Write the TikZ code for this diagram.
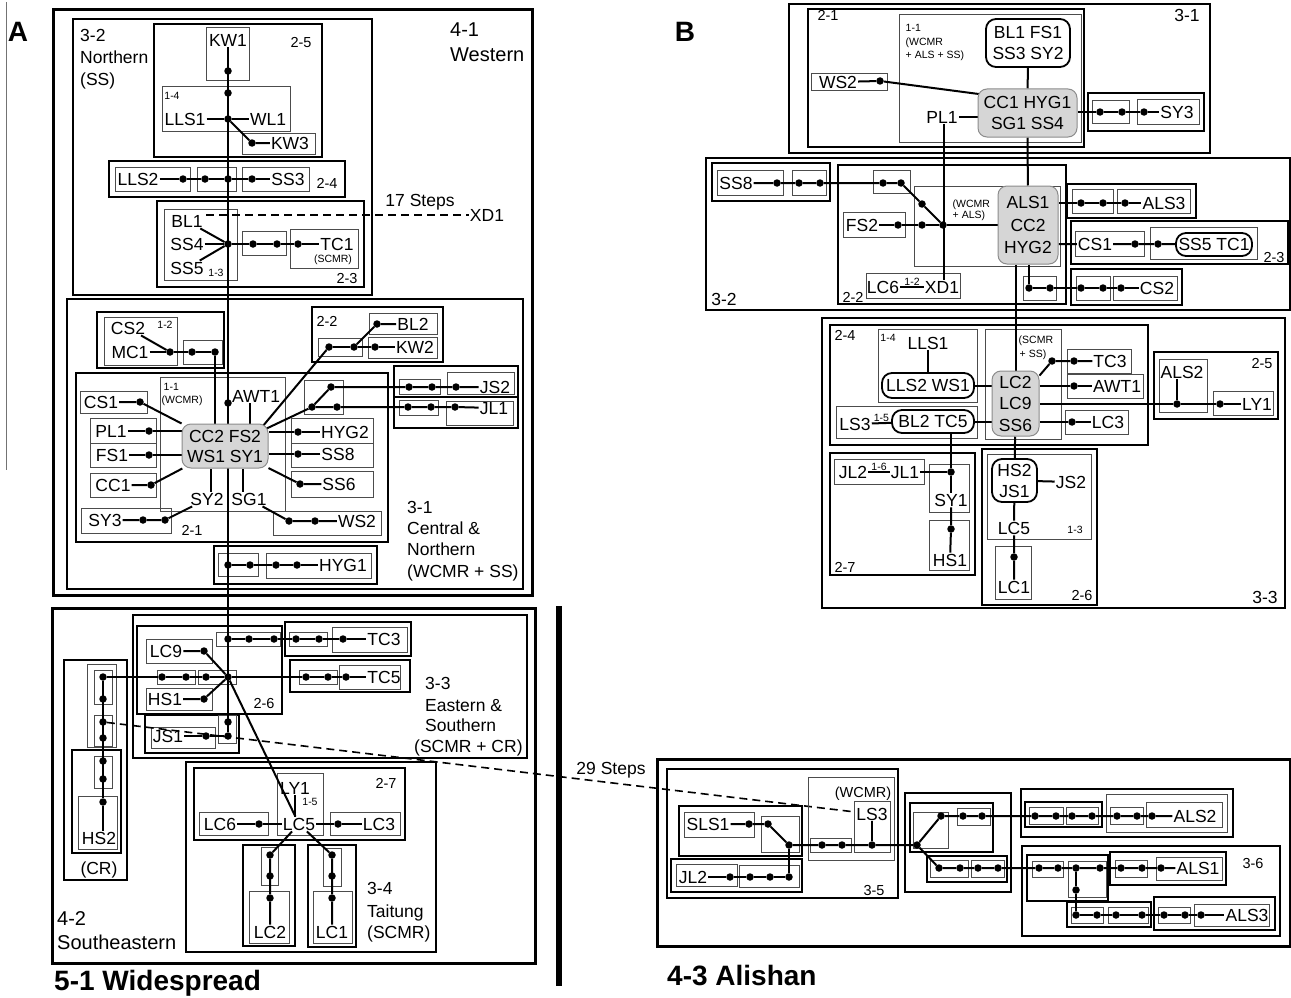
\documentclass[tikz,border=0pt]{standalone}
\usepackage{fontspec}
\setmainfont{Liberation Sans}
\usetikzlibrary{backgrounds}
\begin{document}
\begin{tikzpicture}[x=1pt, y=-1pt,
    lab/.style={font=\fontsize{17.5}{20}\selectfont, inner sep=1pt, text height=12.5pt, text depth=0pt},
    reg/.style={font=\fontsize{20}{23}\selectfont, inner sep=1pt, text height=14.3pt, text depth=0pt},
    sml/.style={font=\fontsize{14.5}{17}\selectfont, inner sep=0.5pt, text height=10.4pt, text depth=0pt},
    tny/.style={font=\fontsize{10.5}{12}\selectfont, inner sep=0.5pt, text height=7.6pt, text depth=0pt},
    big/.style={font=\bfseries\fontsize{28}{31}\selectfont, inner sep=0pt, text height=20pt, text depth=0pt},
    dot/.style={circle, fill, inner sep=0pt, minimum size=7.5pt},
    gnode/.style={draw=black!45, fill=black!16, line width=1pt, rounded corners=9pt, align=center, inner sep=0pt},
    wnode/.style={draw, line width=1.8pt, fill=white, rounded corners=10pt, align=center, inner sep=0pt},
    link/.style={line width=2pt},
    gap/.style={line width=1.6pt, dash pattern=on 8pt off 5pt},
    thinbox/.style={draw=black!70, line width=1pt},
    medbox/.style={draw, line width=1.6pt},
    heavybox/.style={draw, line width=2.2pt},
    thickbox/.style={draw, line width=3pt}]
\useasboundingbox (0,0) rectangle (1291,998);

% ================= A =================
\node[big] (capA) at (18,32) {A};
\node[reg, anchor=west] (w41a) at (449,29) {4-1};
\node[reg, anchor=west] (w41b) at (449,54) {Western};

% 3-2 Northern
\node[lab, anchor=west] (n32a) at (79,35) {3-2};
\node[lab, anchor=west] (n32b) at (79,57) {Northern};
\node[lab, anchor=west] (n32c) at (79,79) {(SS)};
\node[sml] (c25) at (301,42) {2-5};
\node[lab] (kw1) at (228,40) {KW1};
\node[dot] (k1) at (228,71) {};
\node[dot] (k2) at (228,93) {};
\node[tny] (c14) at (172,96) {1-4};
\node[lab] (lls1) at (185,119) {LLS1};
\node[dot] (k3) at (228,119) {};
\node[lab] (wl1) at (268,119) {WL1};
\node[dot] (k4) at (252,143) {};
\node[lab] (kw3) at (290,143) {KW3};
\node[lab] (lls2) at (138,179) {LLS2};
\node[dot] (r1) at (183,179) {};
\node[dot] (r2) at (205,179) {};
\node[dot] (r3) at (228,179) {};
\node[dot] (r4) at (252,179) {};
\node[lab] (ss3) at (288,179) {SS3};
\node[sml] (c24) at (327,183) {2-4};
\node[lab] (bl1) at (187,221) {BL1};
\node[lab] (ss4) at (187,244) {SS4};
\node[lab] (ss5) at (187,268) {SS5};
\node[tny] (c13) at (216,273) {1-3};
\node[dot] (t1) at (228,244) {};
\node[dot] (t2) at (253,244) {};
\node[dot] (t3) at (277,244) {};
\node[dot] (t4) at (298,244) {};
\node[lab] (tc1) at (337,244) {TC1};
\node[tny] (scA) at (333,259) {(SCMR)};
\node[sml] (c23) at (347,278) {2-3};
\coordinate (gapA) at (206,215);
\node[lab] (steps17) at (420,200) {17 Steps};
\node[lab] (xdA) at (487,215) {XD1};

% 3-1 Central & Northern
\node[lab] (cs2) at (128,328) {CS2};
\node[tny] (c12) at (165,325) {1-2};
\node[lab] (mc1) at (130,352) {MC1};
\node[dot] (m1) at (170,352) {};
\node[dot] (m2) at (192,352) {};
\node[dot] (m3) at (215,352) {};
\node[sml] (c22) at (327,321) {2-2};
\node[dot] (b1) at (377,324) {};
\node[lab] (bl2) at (413,324) {BL2};
\node[dot] (b2) at (375,347) {};
\node[lab] (kw2) at (415,347) {KW2};
\node[dot] (b3) at (329,347) {};
\node[dot] (b4) at (354,347) {};
\node[tny, anchor=west] (c11) at (163,387) {1-1};
\node[tny, anchor=west] (wcA) at (161,400) {(WCMR)};
\node[gnode, font=\fontsize{17.5}{20}\selectfont, minimum width=86pt, minimum height=44pt] (hubA) at (225,446) {CC2 FS2\\WS1 SY1};
\node[lab] (awt1) at (256,396) {AWT1};
\node[dot] (a1) at (228,403) {};
\node[lab] (cs1) at (101,402) {CS1};
\node[dot] (e1) at (140,402) {};
\node[lab] (pl1) at (111,431) {PL1};
\node[dot] (e2) at (149,431) {};
\node[lab] (fs1) at (112,455) {FS1};
\node[dot] (e3) at (149,455) {};
\node[lab] (cc1) at (113,485) {CC1};
\node[dot] (e4) at (151,485) {};
\node[lab] (sy3) at (105,520) {SY3};
\node[dot] (e5) at (143,520) {};
\node[dot] (e6) at (165,520) {};
\node[lab] (sy2) at (207,499) {SY2};
\node[lab] (sg1) at (249,499) {SG1};
\node[dot] (e7) at (289,521) {};
\node[dot] (e8) at (315,521) {};
\node[lab] (ws2) at (357,521) {WS2};
\node[dot] (f1) at (298,432) {};
\node[lab] (hyg2) at (345,432) {HYG2};
\node[dot] (f2) at (298,454) {};
\node[lab] (ss8) at (338,454) {SS8};
\node[dot] (f3) at (300,484) {};
\node[lab] (ss6) at (339,484) {SS6};
\node[dot] (g1) at (312,407) {};
\node[dot] (g2) at (331,387) {};
\node[dot] (g3) at (337,407) {};
\node[dot] (g4) at (409,387) {};
\node[dot] (g5) at (432,387) {};
\node[dot] (g6) at (456,387) {};
\node[lab] (js2) at (495,387) {JS2};
\node[dot] (g7) at (408,407) {};
\node[dot] (g8) at (431,407) {};
\node[dot] (g9) at (455,407) {};
\node[lab] (jl1) at (494,408) {JL1};
\node[sml] (c21) at (192,530) {2-1};
\node[dot] (h1) at (228,565) {};
\node[dot] (h2) at (250,565) {};
\node[dot] (h3) at (276,565) {};
\node[dot] (h4) at (297,565) {};
\node[lab] (hyg1) at (343,565) {HYG1};
\node[lab, anchor=west] (n31a) at (406,507) {3-1};
\node[lab, anchor=west] (n31b) at (406,528) {Central \&};
\node[lab, anchor=west] (n31c) at (406,549) {Northern};
\node[lab, anchor=west] (n31d) at (406,571) {(WCMR + SS)};

% 4-2 Southeastern
\node[dot] (p1) at (228,639) {};
\node[dot] (p2) at (249,639) {};
\node[dot] (p3) at (274,639) {};
\node[dot] (p4) at (296,639) {};
\node[dot] (p5) at (319,639) {};
\node[dot] (p6) at (343,639) {};
\node[lab] (tc3) at (384,639) {TC3};
\node[lab] (lc9) at (166,651) {LC9};
\node[dot] (q0) at (204,651) {};
\node[dot] (q1) at (162,677) {};
\node[dot] (q2) at (186,677) {};
\node[dot] (q3) at (206,677) {};
\node[dot] (hub26) at (228,677) {};
\node[dot] (q4) at (306,677) {};
\node[dot] (q5) at (328,677) {};
\node[dot] (q6) at (346,677) {};
\node[lab] (tc5) at (384,677) {TC5};
\node[lab] (hs1) at (165,699) {HS1};
\node[dot] (q7) at (204,699) {};
\node[lab] (js1) at (168,736) {JS1};
\node[dot] (u1) at (206,736) {};
\node[dot] (u2) at (228,722) {};
\node[dot] (u3) at (228,736) {};
\node[sml] (c26) at (264,703) {2-6};
\node[dot] (v1) at (103,677) {};
\node[dot] (v2) at (103,699) {};
\node[dot] (v3) at (103,722) {};
\node[dot] (v4) at (103,738) {};
\node[dot] (v5) at (103,761) {};
\node[dot] (v6) at (103,779) {};
\node[dot] (v7) at (103,802) {};
\node[lab] (hs2) at (99,838) {HS2};
\node[lab] (crA) at (99,868) {(CR)};
\node[lab, anchor=west] (n33a) at (424,683) {3-3};
\node[lab, anchor=west] (n33b) at (424,705) {Eastern \&};
\node[lab, anchor=west] (n33c) at (424,725) {Southern};
\node[lab, anchor=west] (n33d) at (413,746) {(SCMR + CR)};
\node[sml] (c27) at (386,783) {2-7};
\node[lab] (ly1) at (295,788) {LY1};
\node[tny] (c15) at (310,802) {1-5};
\node[lab] (lc5) at (299,824) {LC5};
\node[lab] (lc6) at (220,824) {LC6};
\node[dot] (x1) at (259,824) {};
\node[dot] (x2) at (338,824) {};
\node[lab] (lc3) at (379,824) {LC3};
\node[dot] (x3) at (270,855) {};
\node[dot] (x4) at (270,876) {};
\node[dot] (x5) at (270,898) {};
\node[lab] (lc2) at (270,932) {LC2};
\node[dot] (x6) at (332,855) {};
\node[dot] (x7) at (332,876) {};
\node[dot] (x8) at (332,898) {};
\node[lab] (lc1) at (332,932) {LC1};
\node[lab, anchor=west] (n34a) at (366,888) {3-4};
\node[lab, anchor=west] (n34b) at (366,911) {Taitung};
\node[lab, anchor=west] (n34c) at (366,932) {(SCMR)};
\node[reg, anchor=west] (n42a) at (56,918) {4-2};
\node[reg, anchor=west] (n42b) at (56,942) {Southeastern};
\node[big, anchor=west] (n51) at (54,980) {5-1 Widespread};

% ================= B =================
\node[big] (capB) at (685,32) {B};
\node[lab] (n31B) at (1187,15) {3-1};
\node[sml] (n21B) at (828,15) {2-1};
\node[tny, anchor=west] (n11B) at (905,28) {1-1};
\node[tny, anchor=west] (n11Bb) at (905,42) {(WCMR};
\node[tny, anchor=west] (n11Bc) at (905,55) {+ ALS + SS)};
\node[wnode, font=\fontsize{17.5}{20.5}\selectfont, minimum width=84pt, minimum height=48pt] (topB) at (1028,43) {BL1 FS1\\SS3 SY2};
\node[gnode, font=\fontsize{17.5}{20.5}\selectfont, minimum width=99pt, minimum height=48pt] (hubB1) at (1027.5,113) {CC1 HYG1\\SG1 SS4};
\node[lab] (ws2b) at (838,82) {WS2};
\node[dot] (y1) at (880,81) {};
\node[lab] (pl1b) at (942,117) {PL1};
\node[dot] (y2) at (1100,112) {};
\node[dot] (y3) at (1122,112) {};
\node[dot] (y4) at (1144,112) {};
\node[lab] (sy3b) at (1177,112) {SY3};

% 3-2
\node[lab] (n32B) at (724,299) {3-2};
\node[lab] (ss8b) at (736,183) {SS8};
\node[dot] (s1) at (777,183) {};
\node[dot] (s2) at (799,183) {};
\node[dot] (s3) at (820,183) {};
\node[dot] (s4) at (883,183) {};
\node[dot] (s5) at (901,183) {};
\node[dot] (s6) at (922,204) {};
\node[dot] (j22) at (943,225) {};
\node[lab] (fs2b) at (862,225) {FS2};
\node[dot] (s7) at (898,225) {};
\node[dot] (s8) at (922,225) {};
\node[tny, anchor=west] (wa1) at (952,204) {(WCMR};
\node[tny, anchor=west] (wa2) at (952,215) {+ ALS)};
\node[gnode, font=\fontsize{17.5}{22.5}\selectfont, minimum width=60pt, minimum height=78pt] (hubB2) at (1028,225) {ALS1\\CC2\\HYG2};
\node[dot] (a3a) at (1081,203) {};
\node[dot] (a3b) at (1103,203) {};
\node[dot] (a3c) at (1125,203) {};
\node[lab] (als3b) at (1164,203) {ALS3};
\node[lab] (cs1b) at (1095,244) {CS1};
\node[dot] (o1) at (1135,244) {};
\node[dot] (o2) at (1158,244) {};
\node[wnode, font=\fontsize{17.5}{20}\selectfont, minimum width=76pt, minimum height=23pt] (sstc) at (1214,244.5) {SS5 TC1};
\node[dot] (cz1) at (1029,288) {};
\node[dot] (cz2) at (1050,288) {};
\node[dot] (cz3) at (1081,288) {};
\node[dot] (cz4) at (1103,288) {};
\node[dot] (cz5) at (1121,288) {};
\node[lab] (cs2b) at (1157,288) {CS2};
\node[lab] (lc6b) at (883,287) {LC6};
\node[lab] (xdB) at (942,287) {XD1};
\node[sml] (n22B) at (853,297) {2-2};
\node[sml] (n23B) at (1274,257) {2-3};

% 3-3
\node[sml] (n24B) at (845,335) {2-4};
\node[tny] (n14B) at (888,338) {1-4};
\node[lab] (lls1b) at (928,343) {LLS1};
\node[wnode, font=\fontsize{17.5}{20}\selectfont, minimum width=92pt, minimum height=25pt] (llsws) at (928,385.5) {LLS2 WS1};
\node[lab] (ls3b) at (855,424) {LS3};
\node[wnode, font=\fontsize{17.5}{20}\selectfont, minimum width=82pt, minimum height=23pt] (bltc) at (933,421.5) {BL2 TC5};
\node[tny, anchor=west] (sc1) at (1018,340) {(SCMR};
\node[tny, anchor=west] (sc2) at (1019,354) {+ SS)};
\node[gnode, font=\fontsize{17.5}{21.5}\selectfont, minimum width=47pt, minimum height=65pt] (hubB3) at (1015.5,403.5) {LC2\\LC9\\SS6};
\node[dot] (z1) at (1052,361) {};
\node[dot] (z2) at (1074,361) {};
\node[lab] (tc3b) at (1110,361) {TC3};
\node[dot] (aw1) at (1074,386) {};
\node[lab] (awt1b) at (1117,386) {AWT1};
\node[dot] (lc3d) at (1072,422) {};
\node[lab] (lc3b) at (1108,422) {LC3};
\node[lab] (als2b) at (1182,372) {ALS2};
\node[dot] (ly1a) at (1177,404) {};
\node[dot] (ly1b) at (1220,404) {};
\node[lab] (ly1c) at (1257,404) {LY1};
\node[sml] (n25B) at (1262,363) {2-5};
\node[lab] (jl2b) at (853,472) {JL2};
\node[lab] (jl1b) at (905,472) {JL1};
\node[dot] (sy1d) at (951,472) {};
\node[lab] (sy1b) at (951,500) {SY1};
\node[dot] (hs1d) at (951,529) {};
\node[lab] (hs1b) at (950,560) {HS1};
\node[sml] (n27B) at (845,567) {2-7};
\node[wnode, font=\fontsize{17.5}{21}\selectfont, minimum width=45pt, minimum height=43pt] (hsjs) at (1014.5,480.5) {HS2\\JS1};
\node[lab] (js2b) at (1071,482) {JS2};
\node[lab] (lc5b) at (1014,528) {LC5};
\node[dot] (lc1d) at (1014,557) {};
\node[lab] (lc1b) at (1014,587) {LC1};
\node[tny] (n13B) at (1075,530) {1-3};
\node[sml] (n26B) at (1082,595) {2-6};
\node[lab] (n33B) at (1265,597) {3-3};

% 4-3 Alishan
\node[lab] (steps29) at (611,768) {29 Steps};
\node[sml] (wcB) at (863,792) {(WCMR)};
\node[lab] (ls3) at (872,814) {LS3};
\node[lab] (sls1) at (708,824) {SLS1};
\node[dot] (sa) at (749,824) {};
\node[dot] (sb) at (768,824) {};
\node[dot] (sj) at (789,845) {};
\node[dot] (w1) at (822,845) {};
\node[dot] (w2) at (842,845) {};
\node[dot] (w3) at (872,845) {};
\node[dot] (mj) at (917,845) {};
\node[lab] (jl2c) at (693,877) {JL2};
\node[dot] (ja) at (730,877) {};
\node[dot] (jb) at (750,877) {};
\node[dot] (jc) at (770,877) {};
\node[dot] (jd) at (789,877) {};
\node[sml] (n35) at (874,890) {3-5};
\node[dot] (ma) at (941,816) {};
\node[dot] (mb) at (963,816) {};
\node[dot] (mc) at (982,816) {};
\node[dot] (al1) at (1035,816) {};
\node[dot] (al2) at (1056,816) {};
\node[dot] (al3) at (1072,816) {};
\node[dot] (al4) at (1092,816) {};
\node[dot] (al5) at (1117,816) {};
\node[dot] (al6) at (1137,816) {};
\node[dot] (al7) at (1152,816) {};
\node[lab] (als2c) at (1195,816) {ALS2};
\node[dot] (mla) at (939,868) {};
\node[dot] (mlb) at (960,868) {};
\node[dot] (mlc) at (978,868) {};
\node[dot] (mld) at (998,868) {};
\node[dot] (rr1) at (1039,868) {};
\node[dot] (rr2) at (1058,868) {};
\node[dot] (rj) at (1076,868) {};
\node[dot] (rr3) at (1100,868) {};
\node[dot] (rr4) at (1121,868) {};
\node[dot] (rr5) at (1142,868) {};
\node[dot] (rr6) at (1161,868) {};
\node[lab] (als1c) at (1198,868) {ALS1};
\node[dot] (rv) at (1076,890) {};
\node[dot] (qq1) at (1076,915) {};
\node[dot] (qq2) at (1097,915) {};
\node[dot] (qq3) at (1116,915) {};
\node[dot] (qq4) at (1142,915) {};
\node[dot] (qq5) at (1164,915) {};
\node[dot] (qq6) at (1185,915) {};
\node[dot] (qq7) at (1201,915) {};
\node[lab] (als3c) at (1247,915) {ALS3};
\node[sml] (n36) at (1253,863) {3-6};
\node[big, anchor=west] (n43) at (667,975) {4-3 Alishan};

\begin{scope}[on background layer]
% ---------- boxes A ----------
\draw[black!55, line width=0.8pt] (6,2) -- (6,470);
\draw[thickbox] (53,10) rectangle (532,595);
\draw[thickbox] (52,608) rectangle (535,963);
\draw[heavybox] (73,19) rectangle (372,295);
\draw[medbox] (154,24) rectangle (322,157);
\draw[thinbox] (206,28) rectangle (249,81);
\draw[thinbox] (162,87) rectangle (290,131);
\draw[thinbox] (242,133) rectangle (315,154);
\draw[medbox] (109,161) rectangle (345,197);
\draw[thinbox] (115,167) rectangle (190,191);
\draw[thinbox] (197,167) rectangle (236,191);
\draw[thinbox] (242,167) rectangle (309,191);
\draw[medbox] (157,201) rectangle (364,287);
\draw[thinbox] (164,209) rectangle (237,280);
\draw[thinbox] (242,231) rectangle (286,255);
\draw[thinbox] (290,229) rectangle (358,268);
\draw[heavybox] (67,299) rectangle (523,589);
\draw[medbox] (97,312) rectangle (224,368);
\draw[thinbox] (104,317) rectangle (177,365);
\draw[thinbox] (183,340) rectangle (222,364);
\draw[medbox] (312,307) rectangle (443,362);
\draw[thinbox] (369,313) rectangle (437,334);
\draw[thinbox] (368,337) rectangle (437,358);
\draw[thinbox] (318,338) rectangle (362,356);
\draw[medbox] (76,373) rectangle (388,542);
\draw[thinbox] (160,377) rectangle (285,511);
\draw[thinbox] (80,391) rectangle (147,413);
\draw[thinbox] (90,418) rectangle (156,443);
\draw[thinbox] (90,443) rectangle (156,467);
\draw[thinbox] (90,473) rectangle (156,497);
\draw[thinbox] (81,508) rectangle (171,533);
\draw[thinbox] (291,418) rectangle (373,443);
\draw[thinbox] (291,443) rectangle (373,467);
\draw[thinbox] (291,471) rectangle (373,497);
\draw[thinbox] (273,511) rectangle (381,535);
\draw[thinbox] (304,380) rectangle (343,414);
\draw[medbox] (394,366) rectangle (518,397);
\draw[medbox] (394,397) rectangle (518,428);
\draw[thinbox] (399,379) rectangle (440,394);
\draw[thinbox] (447,372) rectangle (514,394);
\draw[thinbox] (399,400) rectangle (438,415);
\draw[thinbox] (446,401) rectangle (513,425);
\draw[medbox] (214,546) rectangle (377,584);
\draw[thinbox] (218,553) rectangle (258,576);
\draw[thinbox] (266,553) rectangle (371,578);
\draw[heavybox] (133,615) rectangle (527,758);
\draw[medbox] (137,626) rectangle (282,714);
\draw[thinbox] (146,639) rectangle (212,663);
\draw[thinbox] (146,688) rectangle (212,710);
\draw[thinbox] (157,670) rectangle (195,684);
\draw[thinbox] (198,670) rectangle (236,684);
\draw[thinbox] (216,632) rectangle (280,646);
\draw[medbox] (285,622) rectangle (411,656);
\draw[thinbox] (289,632) rectangle (327,646);
\draw[thinbox] (332,627) rectangle (407,652);
\draw[medbox] (290,660) rectangle (410,692);
\draw[thinbox] (299,670) rectangle (337,684);
\draw[thinbox] (339,665) rectangle (400,689);
\draw[medbox] (145,715) rectangle (239,753);
\draw[thinbox] (151,727) rectangle (215,748);
\draw[thinbox] (218,715) rectangle (236,743);
\draw[heavybox] (64,660) rectangle (127,880);
\draw[thinbox] (87,664) rectangle (116,747);
\draw[thinbox] (94,670) rectangle (112,704);
\draw[thinbox] (94,715) rectangle (112,746);
\draw[medbox] (72,750) rectangle (121,853);
\draw[thinbox] (94,756) rectangle (112,788);
\draw[thinbox] (78,796) rectangle (117,849);
\draw[heavybox] (186,762) rectangle (436,952);
\draw[medbox] (194,768) rectangle (405,840);
\draw[thinbox] (277,773) rectangle (323,835);
\draw[thinbox] (199,812) rectangle (268,835);
\draw[thinbox] (330,812) rectangle (400,835);
\draw[medbox] (243,845) rectangle (295,946);
\draw[thinbox] (261,847) rectangle (278,885);
\draw[thinbox] (249,891) rectangle (289,943);
\draw[medbox] (308,845) rectangle (356,947);
\draw[thinbox] (323,848) rectangle (341,886);
\draw[thinbox] (313,891) rectangle (352,943);
\draw[line width=6pt] (559,606) -- (559,986);

% ---------- links A ----------
\draw[link] (kw1) -- (u3);
\draw[link] (lls1) -- (k3) -- (wl1);
\draw[link] (k3) -- (k4) -- (kw3);
\draw[link] (lls2) -- (r1) -- (r2) -- (r3) -- (r4) -- (ss3);
\draw[link] (bl1) -- (t1);
\draw[link] (ss5) -- (t1);
\draw[link] (ss4) -- (t1) -- (t2) -- (t3) -- (t4) -- (tc1);
\draw[gap] (gapA) -- (xdA);
\draw[link] (cs2) -- (m1);
\draw[link] (mc1) -- (m1) -- (m2) -- (m3) -- (m3 |- hubA.north);
\draw[link] (b3) -- (b4) -- (b2) -- (kw2);
\draw[link] (b4) -- (b1) -- (bl2);
\draw[link] ([shift={(-6pt,-3pt)}]hubA.north east) -- (b3);
\draw[link] ([shift={(-4pt,-6pt)}]hubA.north east) -- (g1) -- (g2) -- (g4) -- (g5) -- (g6) -- (js2);
\draw[link] (g1) -- (g3) -- (g7) -- (g8) -- (g9) -- (jl1);
\draw[link] (cs1) -- (e1) -- (hubA);
\draw[link] (pl1) -- (e2) -- (e2 -| hubA.west);
\draw[link] (fs1) -- (e3) -- (e3 -| hubA.west);
\draw[link] (cc1) -- (e4) -- (hubA);
\draw[link] (sy3) -- (e5) -- (e6) -- (sy2);
\draw[link] ([xshift=4pt]sy2.north) -- ([xshift=4pt]sy2.north |- hubA.south);
\draw[link] ([xshift=-6pt]sg1.north) -- ([xshift=-6pt]sg1.north |- hubA.south);
\draw[link] (sg1) -- (e7) -- (e8) -- (ws2);
\draw[link] (hyg2) -- (f1) -- (f1 -| hubA.east);
\draw[link] (ss8) -- (f2) -- (f2 -| hubA.east);
\draw[link] (ss6) -- (f3) -- (hubA);
\draw[link] ([xshift=-6pt]awt1.south) -- ([xshift=-6pt]awt1.south |- hubA.north);
\draw[link] (h1) -- (h2) -- (h3) -- (h4) -- (hyg1);
\draw[link] (p1) -- (p2) -- (p3) -- (p4) -- (p5) -- (p6) -- (tc3);
\draw[link] (v1) -- (q1) -- (q2) -- (q3) -- (hub26) -- (q4) -- (q5) -- (q6) -- (tc5);
\draw[link] (lc9) -- (q0) -- (hub26);
\draw[link] (hs1) -- (q7) -- (hub26);
\draw[link] (hub26) -- (lc5);
\draw[link] (js1) -- (u1) -- (u3);
\draw[link] (v1) -- (v7) -- (v7 |- hs2.north);
\draw[link] (ly1) -- (ly1 |- lc5.north);
\draw[link] (lc6) -- (x1) -- (lc5) -- (x2) -- (lc3);
\draw[link] (lc5) -- (x3) -- (x5) -- (lc2);
\draw[link] (lc5) -- (x6) -- (x8) -- (lc1);
\draw[gap] (v3) -- (ls3);

% ---------- boxes B ----------
\draw[heavybox] (789,4) rectangle (1210,153);
\draw[medbox] (808,9) rectangle (1084,147);
\draw[thinbox] (899,15) rectangle (1081,142);
\draw[thinbox] (811,74) rectangle (887,91);
\draw[medbox] (1088,93) rectangle (1204,131);
\draw[thinbox] (1092,100) rectangle (1129,123);
\draw[thinbox] (1137,99) rectangle (1199,124);
\draw[heavybox] (706,158) rectangle (1290,310);
\draw[medbox] (712,163) rectangle (830,201);
\draw[thinbox] (717,170) rectangle (783,195);
\draw[thinbox] (792,170) rectangle (826,195);
\draw[thinbox] (873,170) rectangle (910,193);
\draw[medbox] (838,165) rectangle (1066,304);
\draw[thinbox] (914,186) rectangle (1060,266);
\draw[thinbox] (843,212) rectangle (905,237);
\draw[medbox] (1067,184) rectangle (1196,218);
\draw[thinbox] (1072,189) rectangle (1113,213);
\draw[thinbox] (1117,189) rectangle (1190,213);
\draw[medbox] (1071,221) rectangle (1288,264);
\draw[thinbox] (1075,231) rectangle (1144,256);
\draw[thinbox] (1150,227) rectangle (1257,259);
\draw[thinbox] (1023,276) rectangle (1056,300);
\draw[medbox] (1071,269) rectangle (1182,305);
\draw[thinbox] (1076,276) rectangle (1110,300);
\draw[thinbox] (1113,276) rectangle (1177,300);
\draw[thinbox] (866,273) rectangle (960,298);
\draw[heavybox] (822,318) rectangle (1285,608);
\draw[medbox] (830,325) rectangle (1148,445);
\draw[thinbox] (878,329) rectangle (977,402);
\draw[thinbox] (836,406) rectangle (977,438);
\draw[thinbox] (985,329) rectangle (1061,439);
\draw[thinbox] (1067,349) rectangle (1131,373);
\draw[thinbox] (1067,374) rectangle (1143,398);
\draw[thinbox] (1065,410) rectangle (1128,434);
\draw[medbox] (1154,352) rectangle (1278,419);
\draw[thinbox] (1159,359) rectangle (1207,412);
\draw[thinbox] (1213,391) rectangle (1273,415);
\draw[medbox] (830,453) rectangle (975,575);
\draw[thinbox] (834,459) rectangle (924,484);
\draw[thinbox] (929,464) rectangle (969,512);
\draw[thinbox] (929,520) rectangle (969,570);
\draw[medbox] (982,449) rectangle (1097,605);
\draw[thinbox] (987,454) rectangle (1091,539);
\draw[thinbox] (995,546) rectangle (1031,599);

% ---------- boxes Alishan ----------
\draw[thickbox] (657,759) rectangle (1290,946);
\draw[heavybox] (667,769) rectangle (898,898);
\draw[thinbox] (808,777) rectangle (894,860);
\draw[thinbox] (854,801) rectangle (890,852);
\draw[thinbox] (810,838) rectangle (851,852);
\draw[medbox] (679,806) rectangle (802,856);
\draw[thinbox] (684,812) rectangle (754,837);
\draw[thinbox] (761,816) rectangle (799,852);
\draw[medbox] (671,859) rectangle (802,892);
\draw[thinbox] (676,864) rectangle (737,886);
\draw[thinbox] (739,865) rectangle (799,887);
\draw[medbox] (905,793) rectangle (1011,892);
\draw[medbox] (910,803) rectangle (993,852);
\draw[thinbox] (913,812) rectangle (948,848);
\draw[thinbox] (957,808) rectangle (990,825);
\draw[medbox] (927,856) rectangle (1007,882);
\draw[thinbox] (930,860) rectangle (968,877);
\draw[thinbox] (971,860) rectangle (1004,877);
\draw[medbox] (1021,789) rectangle (1233,837);
\draw[medbox] (1025,802) rectangle (1102,827);
\draw[thinbox] (1029,807) rectangle (1063,824);
\draw[thinbox] (1066,807) rectangle (1098,824);
\draw[thinbox] (1106,794) rectangle (1227,832);
\draw[thinbox] (1110,807) rectangle (1143,824);
\draw[thinbox] (1146,802) rectangle (1222,827);
\draw[heavybox] (1022,846) rectangle (1280,936);
\draw[medbox] (1027,855) rectangle (1108,901);
\draw[thinbox] (1032,861) rectangle (1063,877);
\draw[thinbox] (1068,861) rectangle (1106,897);
\draw[medbox] (1110,852) rectangle (1226,885);
\draw[thinbox] (1115,860) rectangle (1147,877);
\draw[thinbox] (1156,857) rectangle (1222,880);
\draw[medbox] (1067,902) rectangle (1151,927);
\draw[thinbox] (1071,907) rectangle (1103,923);
\draw[thinbox] (1108,907) rectangle (1148,923);
\draw[medbox] (1154,897) rectangle (1275,930);
\draw[thinbox] (1158,907) rectangle (1190,923);
\draw[thinbox] (1194,904) rectangle (1269,926);

% ---------- links B ----------
\draw[link] (topB) -- (hubB1);
\draw[link] (hubB1) -- (hubB2);
\draw[link] (ws2b) -- (y1) -- ([shift={(5pt,-6pt)}]hubB1.north west);
\draw[link] (pl1b) -- (pl1b -| hubB1.west);
\draw[link] ([xshift=2pt]pl1b.south) -- ([xshift=2pt]pl1b.south |- xdB.north);
\draw[link] (y2 -| hubB1.east) -- (y2) -- (y3) -- (y4) -- (sy3b);
\draw[link] (ss8b) -- (s1) -- (s2) -- (s3) -- (s4) -- (s5) -- (s6) -- (j22);
\draw[link] (fs2b) -- (s7) -- (s8) -- (j22) -- (j22 -| hubB2.west);
\draw[link] (a3a -| hubB2.east) -- (a3a) -- (a3b) -- (a3c) -- (als3b);
\draw[link] (cs1b -| hubB2.east) -- (cs1b) -- (o1) -- (o2) -- (sstc);
\draw[link] (cz1 |- hubB2.south) -- (cz1) -- (cz2) -- (cz3) -- (cz4) -- (cz5) -- (cs2b);
\draw[link] (lc6b) -- node[tny, above=0.5pt] (n12B) {1-2} (xdB);
\draw[link] ([xshift=-12pt]hubB2.south) -- ([xshift=-12pt]hubB2.south |- hubB3.north);
\draw[link] (lls1b) -- (llsws);
\draw[link] (llsws.east) -- (llsws.east -| hubB3.west);
\draw[link] (ls3b) -- node[tny, above=0.5pt] (n15B) {1-5} (bltc);
\draw[link] (bltc.east) -- (bltc.east -| hubB3.west);
\draw[link] (hubB3) -- (z1) -- (z2) -- (tc3b);
\draw[link] (aw1 -| hubB3.east) -- (aw1) -- (awt1b);
\draw[link] (ly1a -| hubB3.east) -- (ly1a) -- (ly1b) -- (ly1c);
\draw[link] ([xshift=-5pt]als2b.south) -- (ly1a);
\draw[link] (lc3d -| hubB3.east) -- (lc3d) -- (lc3b);
\draw[link] (sy1d |- bltc.south) -- (sy1d) -- (sy1d |- sy1b.north);
\draw[link] (jl1b) -- (sy1d);
\draw[link] (jl2b) -- node[tny, above=0.5pt] (n16B) {1-6} (jl1b);
\draw[link] (sy1b) -- (hs1d) -- (hs1b);
\draw[link] (hubB3) -- (hsjs);
\draw[link] (hsjs) -- (js2b);
\draw[link] (hsjs) -- (lc5b) -- (lc1d) -- (lc1b);

% ---------- links Alishan ----------
\draw[link] (sls1) -- (sa) -- (sb) -- (sj) -- (w1) -- (w2) -- (w3) -- (mj);
\draw[link] (ls3) -- (w3);
\draw[link] (jl2c) -- (ja) -- (jb) -- (jc) -- (jd) -- (sj);
\draw[link] (mj) -- (ma) -- (mb) -- (mc) -- (al1) -- (al2) -- (al3) -- (al4) -- (al5) -- (al6) -- (al7) -- (als2c);
\draw[link] (mj) -- (mla) -- (mlb) -- (mlc) -- (mld) -- (rr1) -- (rr2) -- (rj) -- (rr3) -- (rr4) -- (rr5) -- (rr6) -- (als1c);
\draw[link] (rj) -- (rv) -- (qq1) -- (qq2) -- (qq3) -- (qq4) -- (qq5) -- (qq6) -- (qq7) -- (als3c);
\end{scope}
\end{tikzpicture}
\end{document}
